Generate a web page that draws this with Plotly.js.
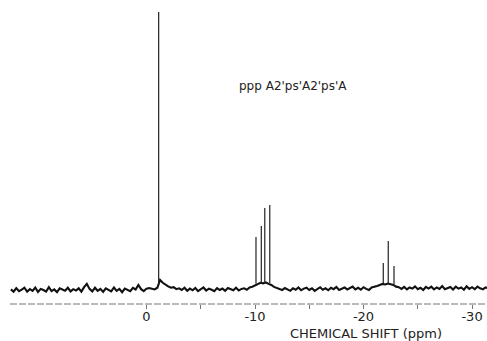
<!DOCTYPE html>
<html><head><meta charset="utf-8">
<script src="https://cdn.plot.ly/plotly-3.0.1.min.js"></script>
<style>html,body{margin:0;padding:0;background:#fff;}</style>
</head><body>
<div id="chart" style="width:487px;height:341px;"></div>
<script>
// Baseline spectrum, sampled from 12.5 ppm downward in steps of 0.25 ppm
const baseStart = 12.5;
const baseStep = -0.25;
const baseline = [
 0.2,-0.6,0.7,-0.4,0.1,0.8,-0.6,0.3,-0.3,0.9,-0.7,0.4,0.0,-0.6,1.0,-0.4,0.2,-0.8,0.6,0.1,-0.3,0.8,-0.5,0.3,-0.2,0.6,-0.6,1.0,2.2,0.4,-0.5,0.8,-0.3,0.4,-0.7,0.6,0.0,-0.5,0.9,-0.3,0.4,-0.8,0.5,0.1,-0.4,0.8,0.2,
 1.8,0.3,-0.4,0.5,0.7,0.5,0.2,0.8,3.6,2.6,1.8,1.3,0.8,1.0,0.3,0.6,
 0.0,0.8,-0.3,0.5,-0.1,0.7,-0.4,0.3,0.9,-0.2,0.5,0.1,-0.4,0.7,0.0,0.5,-0.3,0.7,0.2,-0.1,0.8,-0.2,0.4,0.6,0.1,0.9,1.2,
 1.6,2.2,2.6,2.4,2.7,2.2,1.8,1.1,
 0.8,0.3,0.0,0.7,0.2,-0.3,0.6,0.1,0.9,-0.1,0.5,0.8,0.0,0.6,-0.3,0.5,1.0,0.1,0.6,-0.1,0.8,0.3,1.1,0.0,0.5,0.9,0.2,0.6,1.2,0.2,0.8,0.1,1.0,0.4,0.0,0.9,1.1,1.4,
 1.8,2.2,2.0,2.3,2.1,1.8,1.2,
 1.0,0.4,1.1,0.2,0.9,0.5,1.3,0.3,0.8,0.0,1.1,0.5,1.2,0.2,0.9,0.4,1.4,0.3,0.8,1.1,0.2,1.2,0.5,0.9,0.1,1.3,0.4,1.0,0.3,1.2,0.6,0.2,0.9,0.6
];
// Resonance lines (ppm), their heights and the local base level
const peakPos    = [-1.12, -10.09, -10.58, -10.90, -11.36, -21.82, -22.28, -22.81];
const peakHeight = [100, 19.1, 23.0, 29.5, 30.6, 9.7, 17.6, 8.6];
const peakBase   = [2.0, 2.2, 2.6, 2.5, 2.4, 2.2, 2.1, 2.0];

const tickVals = [0, -5, -10, -15, -20, -25, -30];
const tickText = ['0', '', '-10', '', '-20', '', '-30'];
const sampleLabel = "ppp A2'ps'A2'ps'A";
const axisLabel = "CHEMICAL SHIFT (ppm)";

const px = [], py = [];
for (let i = 0; i < peakPos.length; i++) {
  px.push(peakPos[i], peakPos[i], null);
  py.push(peakBase[i], peakHeight[i], null);
}

const traces = [
  {type: 'scatter', mode: 'lines', x0: baseStart, dx: baseStep, y: baseline,
   line: {color: '#111', width: 2.1}, hoverinfo: 'skip', showlegend: false},
  {type: 'scatter', mode: 'lines', x: px, y: py,
   line: {color: '#222', width: 1.2}, hoverinfo: 'skip', showlegend: false, connectgaps: false}
];

const layout = {
  width: 487, height: 341,
  margin: {l: 10, r: 0, t: 0, b: 37},
  paper_bgcolor: '#fff', plot_bgcolor: '#fff',
  showlegend: false,
  xaxis: {
    range: [12.58, -31.38], showgrid: false, zeroline: false, showline: false,
    tickmode: 'array', tickvals: tickVals, ticktext: tickText,
    ticks: 'outside', ticklen: 4, tickcolor: '#777', tickwidth: 1,
    ticklabelstandoff: -4,
    tickfont: {family: 'DejaVu Sans', size: 13, color: '#222'}
  },
  yaxis: {range: [-5.04, 104.3], visible: false, showgrid: false, zeroline: false},
  shapes: [
    {type: 'line', xref: 'paper', yref: 'paper', x0: 0, x1: 1, y0: 0, y1: 0,
     line: {color: '#777', width: 1, dash: '7px,2px'}}
  ],
  annotations: [
    {text: sampleLabel, xref: 'paper', yref: 'paper',
     x: (293 - 10) / 477, y: (304 - 86) / 304, xanchor: 'center', yanchor: 'middle',
     showarrow: false, font: {family: 'DejaVu Sans', size: 12, color: '#222'}},
    {text: axisLabel, xref: 'paper', yref: 'paper',
     x: (366 - 10) / 477, y: (304 - 333) / 304, xanchor: 'center', yanchor: 'middle',
     showarrow: false, font: {family: 'DejaVu Sans', size: 13, color: '#222'}}
  ]
};

Plotly.newPlot('chart', traces, layout, {staticPlot: true, displayModeBar: false});
</script>
</body></html>
